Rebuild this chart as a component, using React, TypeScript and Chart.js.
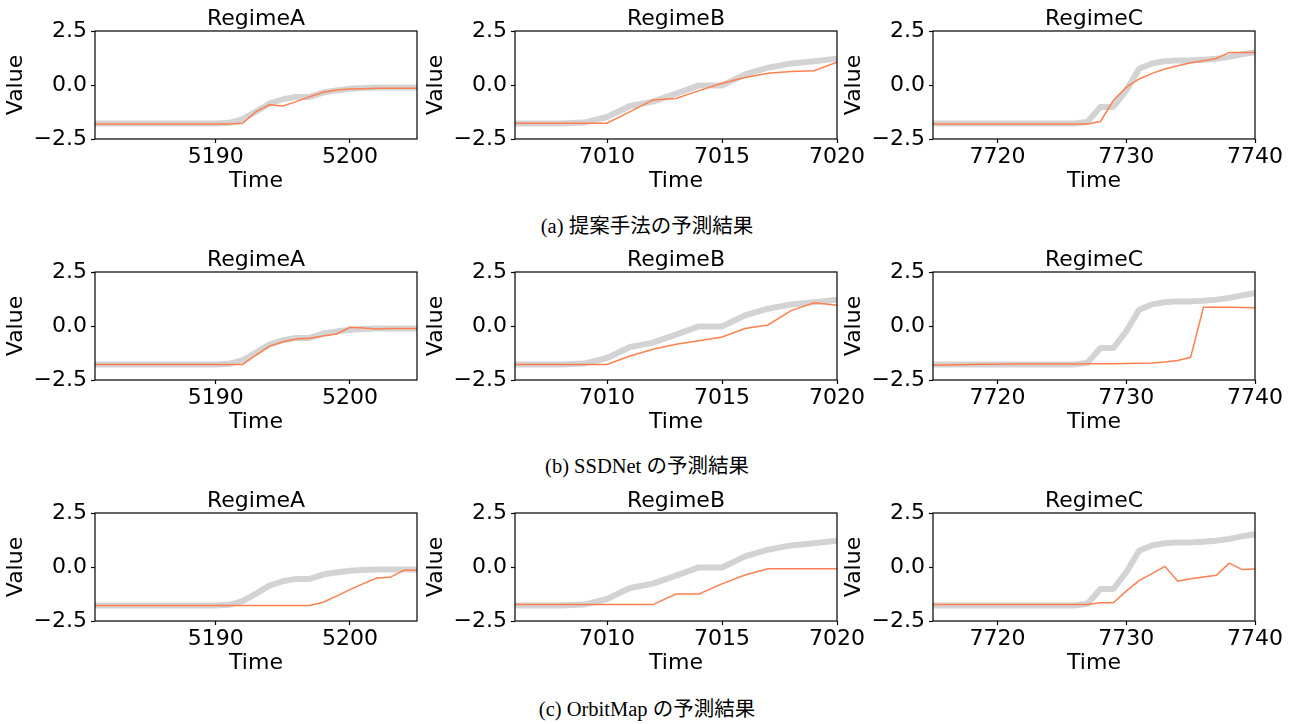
import React, { useEffect, useRef } from 'react';
import { Chart, registerables } from 'chart.js';
Chart.register(...registerables);

// ---- Data ----
const timeA = [5181, 5182, 5183, 5184, 5185, 5186, 5187, 5188, 5189, 5190, 5191, 5192, 5193, 5194, 5195, 5196, 5197, 5198, 5199, 5200, 5201, 5202, 5203, 5204, 5205];
const timeB = [7006, 7007, 7008, 7009, 7010, 7011, 7012, 7013, 7014, 7015, 7016, 7017, 7018, 7019, 7020];
const timeC = [7715, 7716, 7717, 7718, 7719, 7720, 7721, 7722, 7723, 7724, 7725, 7726, 7727, 7728, 7729, 7730, 7731, 7732, 7733, 7734, 7735, 7736, 7737, 7738, 7739, 7740];

const truthA = [-1.78, -1.78, -1.78, -1.78, -1.78, -1.78, -1.78, -1.78, -1.78, -1.78, -1.75, -1.58, -1.23, -0.86, -0.66, -0.55, -0.55, -0.35, -0.25, -0.17, -0.14, -0.12, -0.12, -0.12, -0.12];
const truthB = [-1.78, -1.78, -1.78, -1.74, -1.48, -0.97, -0.77, -0.4, -0.02, -0.02, 0.49, 0.8, 1.0, 1.1, 1.22];
const truthC = [-1.78, -1.78, -1.78, -1.78, -1.78, -1.78, -1.78, -1.78, -1.78, -1.78, -1.78, -1.78, -1.7, -1.02, -1.02, -0.25, 0.75, 1.0, 1.1, 1.14, 1.14, 1.17, 1.22, 1.3, 1.42, 1.52];

const proposedA = [-1.8, -1.8, -1.8, -1.8, -1.8, -1.8, -1.8, -1.8, -1.8, -1.8, -1.8, -1.77, -1.23, -0.92, -0.97, -0.77, -0.54, -0.34, -0.23, -0.18, -0.17, -0.15, -0.15, -0.15, -0.15];
const proposedB = [-1.77, -1.77, -1.77, -1.77, -1.77, -1.23, -0.69, -0.62, -0.26, 0.08, 0.35, 0.54, 0.62, 0.66, 1.05];
const proposedC = [-1.8, -1.8, -1.8, -1.8, -1.8, -1.8, -1.8, -1.8, -1.8, -1.8, -1.8, -1.8, -1.8, -1.69, -0.72, -0.11, 0.28, 0.54, 0.74, 0.89, 1.03, 1.12, 1.23, 1.51, 1.51, 1.51];

const ssdA = [-1.78, -1.78, -1.78, -1.78, -1.78, -1.78, -1.78, -1.78, -1.78, -1.78, -1.78, -1.78, -1.35, -0.93, -0.73, -0.6, -0.57, -0.46, -0.37, -0.06, -0.09, -0.14, -0.11, -0.11, -0.11];
const ssdB = [-1.78, -1.78, -1.78, -1.78, -1.78, -1.39, -1.08, -0.84, -0.68, -0.51, -0.12, 0.05, 0.71, 1.08, 0.96];
const ssdC = [-1.81, -1.8, -1.79, -1.78, -1.77, -1.77, -1.76, -1.76, -1.76, -1.76, -1.76, -1.76, -1.75, -1.75, -1.75, -1.74, -1.73, -1.71, -1.67, -1.6, -1.45, 0.87, 0.87, 0.87, 0.86, 0.84];

const orbitA = [-1.78, -1.78, -1.78, -1.78, -1.78, -1.78, -1.78, -1.78, -1.78, -1.78, -1.78, -1.78, -1.78, -1.78, -1.78, -1.78, -1.78, -1.63, -1.35, -1.05, -0.77, -0.51, -0.48, -0.15, -0.15];
const orbitB = [-1.74, -1.74, -1.74, -1.74, -1.74, -1.74, -1.74, -1.25, -1.25, -0.78, -0.37, -0.08, -0.08, -0.08, -0.08];
const orbitC = [-1.74, -1.74, -1.74, -1.74, -1.74, -1.74, -1.74, -1.74, -1.74, -1.74, -1.74, -1.74, -1.74, -1.66, -1.66, -1.12, -0.63, -0.31, 0.03, -0.66, -0.54, -0.46, -0.38, 0.18, -0.12, -0.09];

const xTicksA = [5190, 5200];
const xTicksB = [7010, 7015, 7020];
const xTicksC = [7720, 7730, 7740];
const yTicks = [-2.5, 0, 2.5];

const regimeTitles = ['RegimeA', 'RegimeB', 'RegimeC'];
const captions = ['(a) 提案手法の予測結果', '(b) SSDNet の予測結果', '(c) OrbitMap の予測結果'];

// ---- Layout ----
const ROW_TOPS = [31, 272, 513];
const COL_LEFTS = [95, 515, 933];
const PLOT_W = 322;
const PLOT_H = 108;
const Y_AXIS_W = 95;
const TITLE_H = 31;
const X_AXIS_H = 60;
const RIGHT_PAD = 30;
const CAPTION_Y = [226, 466, 709];

const FONT = 'DejaVu Sans';
const FS = 22;

const boxPlugin = {
  id: 'box',
  afterDatasetsDraw(chart: any) {
    const { ctx, chartArea } = chart;
    ctx.save();
    ctx.strokeStyle = '#000';
    ctx.lineWidth = 1.2;
    ctx.strokeRect(chartArea.left, chartArea.top, chartArea.right - chartArea.left, chartArea.bottom - chartArea.top);
    ctx.restore();
  },
};

type PanelProps = {
  left: number;
  top: number;
  title: string;
  times: number[];
  truth: number[];
  pred: number[];
  xTicks: number[];
};

function Panel({ left, top, title, times, truth, pred, xTicks }: PanelProps) {
  const ref = useRef<HTMLCanvasElement | null>(null);
  useEffect(() => {
    if (!ref.current) return;
    const font = { family: FONT, size: FS };
    const chart = new Chart(ref.current, {
      type: 'line',
      data: {
        datasets: [
          {
            data: times.map((t, i) => ({ x: t, y: pred[i] })),
            borderColor: '#ff7f50',
            borderWidth: 1.5,
            pointRadius: 0,
            tension: 0,
            order: 0,
          },
          {
            data: times.map((t, i) => ({ x: t, y: truth[i] })),
            borderColor: '#d3d3d3',
            borderWidth: 6,
            borderJoinStyle: 'round',
            pointRadius: 0,
            tension: 0,
            order: 1,
          },
        ],
      },
      options: {
        animation: false,
        responsive: false,
        events: [],
        layout: { padding: { left: 0, right: RIGHT_PAD, top: 0, bottom: 0 } },
        plugins: {
          legend: { display: false },
          tooltip: { enabled: false },
          title: {
            display: true,
            fullSize: false,
            text: title,
            color: '#000',
            font: { family: FONT, size: FS, weight: 'normal', lineHeight: 1 },
            padding: { top: 8, bottom: 1 },
          },
        },
        scales: {
          x: {
            type: 'linear',
            min: times[0],
            max: times[times.length - 1],
            afterBuildTicks: (s: any) => { s.ticks = xTicks.map((v) => ({ value: v })); },
            afterFit: (s: any) => { s.height = X_AXIS_H; },
            ticks: { color: '#000', font, padding: 1, maxRotation: 0, autoSkip: false, callback: (v: any) => String(v) },
            grid: { display: true, drawOnChartArea: false, drawTicks: true, tickLength: 4, tickColor: '#000', tickWidth: 1.2 },
            border: { display: false },
            title: { display: true, text: 'Time', color: '#000', font: { family: FONT, size: FS, lineHeight: 1.2 }, padding: { top: 0, bottom: 5 } },
          },
          y: {
            type: 'linear',
            min: -2.5,
            max: 2.5,
            afterBuildTicks: (s: any) => { s.ticks = yTicks.map((v) => ({ value: v })); },
            afterFit: (s: any) => { s.width = Y_AXIS_W; },
            ticks: {
              color: '#000',
              font,
              padding: 4,
              autoSkip: false,
              callback: (v: any) => (v < 0 ? '\u2212' : '') + Math.abs(v).toFixed(1),
            },
            grid: { display: true, drawOnChartArea: false, drawTicks: true, tickLength: 4, tickColor: '#000', tickWidth: 1.2 },
            border: { display: false },
            title: { display: true, text: 'Value', color: '#000', font: { family: FONT, size: FS, lineHeight: 1.2 }, padding: { top: 3, bottom: 0 } },
          },
        },
      },
      plugins: [boxPlugin],
    } as any);
    return () => chart.destroy();
  }, []);
  const w = Y_AXIS_W + PLOT_W + RIGHT_PAD;
  const h = TITLE_H + PLOT_H + X_AXIS_H;
  return (
    <canvas
      ref={ref}
      width={w}
      height={h}
      style={{ position: 'absolute', left: left - Y_AXIS_W, top: top - TITLE_H, width: w, height: h }}
    />
  );
}

const rows = [
  [proposedA, proposedB, proposedC],
  [ssdA, ssdB, ssdC],
  [orbitA, orbitB, orbitC],
];
const timesByCol = [timeA, timeB, timeC];
const truthByCol = [truthA, truthB, truthC];
const ticksByCol = [xTicksA, xTicksB, xTicksC];

export default function App() {
  return (
    <div style={{ position: 'absolute', left: 0, top: 0, width: 1297, height: 724, background: '#fff', overflow: 'hidden' }}>
      {rows.map((preds, r) =>
        preds.map((pred, c) => (
          <Panel
            key={`${r}-${c}`}
            left={COL_LEFTS[c]}
            top={ROW_TOPS[r]}
            title={regimeTitles[c]}
            times={timesByCol[c]}
            truth={truthByCol[c]}
            pred={pred}
            xTicks={ticksByCol[c]}
          />
        ))
      )}
      {captions.map((text, i) => (
        <div
          key={i}
          style={{
            position: 'absolute',
            left: 347,
            width: 600,
            top: CAPTION_Y[i] - 12,
            height: 24,
            lineHeight: '24px',
            textAlign: 'center',
            fontFamily: '"Liberation Serif", "Noto Sans CJK JP", serif',
            fontSize: 20.5,
            color: '#000',
            whiteSpace: 'nowrap',
          }}
        >
          {text}
        </div>
      ))}
    </div>
  );
}
